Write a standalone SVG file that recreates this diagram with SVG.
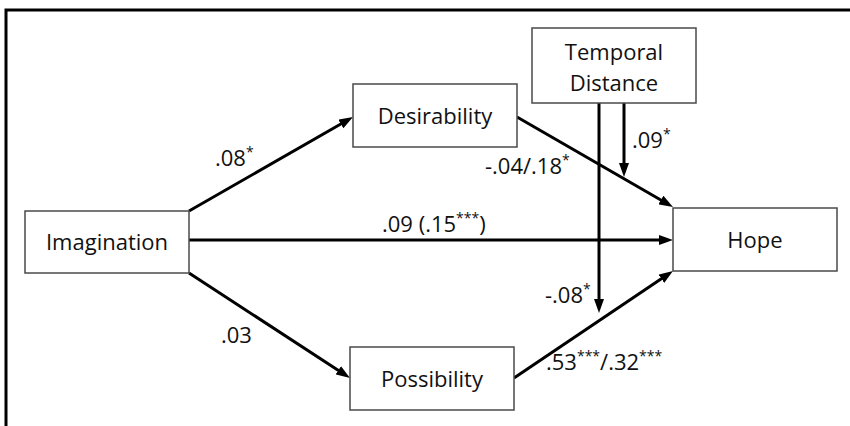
<svg xmlns="http://www.w3.org/2000/svg" width="850" height="426" viewBox="0 0 850 426">
  <style>
    .box { fill: #ffffff; stroke: #4a4a4a; stroke-width: 1.5; }
    .name { font-family: "Open Sans", "Liberation Sans", sans-serif; font-size: 22px; fill: #111111; text-anchor: middle; }
    .lbl { font-family: "Open Sans", "Liberation Sans", sans-serif; font-size: 22px; fill: #111111; }
    .sup { font-size: 14px; }
    .path { stroke: #000000; stroke-width: 3; fill: none; marker-end: url(#head); }
  </style>
  <defs>
    <marker id="head" markerUnits="userSpaceOnUse" markerWidth="14" markerHeight="10" refX="8" refY="5" orient="auto">
      <path d="M0,0 L14,5 L0,10 z" fill="#000000"/>
    </marker>
  </defs>

  <rect width="850" height="426" fill="#ffffff"/>
  <!-- outer frame (top and left edges) -->
  <polyline points="6,426 6,10 850,10" fill="none" stroke="#000000" stroke-width="3"/>

  <g id="connectors">
    <line class="path" x1="189" y1="211" x2="347.8" y2="120.0"/>
    <line class="path" x1="189" y1="240" x2="667" y2="240"/>
    <line class="path" x1="189" y1="273" x2="345.0" y2="374.7"/>
    <line class="path" x1="517" y1="117" x2="667.8" y2="204.0"/>
    <line class="path" x1="514" y1="378" x2="668.0" y2="274.3"/>
    <line class="path" x1="599" y1="103" x2="599" y2="307"/>
    <line class="path" x1="624" y1="103" x2="624" y2="171"/>

    <text class="lbl" x="215" y="166">.08<tspan class="sup" dy="-9">*</tspan></text>
    <text class="lbl" x="485" y="174">-.04/.18<tspan class="sup" dy="-9">*</tspan></text>
    <text class="lbl" x="632" y="148">.09<tspan class="sup" dy="-9">*</tspan></text>
    <text class="lbl" x="382" y="232">.09 (.15<tspan class="sup" dy="-9">***</tspan><tspan dy="9">)</tspan></text>
    <text class="lbl" x="545" y="303">-.08<tspan class="sup" dy="-9">*</tspan></text>
    <text class="lbl" x="221" y="343">.03</text>
    <text class="lbl" x="546" y="370">.53<tspan class="sup" dy="-9">***</tspan><tspan dy="9">/.32</tspan><tspan class="sup" dy="-9">***</tspan></text>
  </g>

  <g id="imagination">
    <rect class="box" x="25" y="211" width="164" height="62"/>
    <text class="name" x="107" y="250">Imagination</text>
  </g>
  <g id="desirability">
    <rect class="box" x="353" y="84" width="164" height="63"/>
    <text class="name" x="435" y="124">Desirability</text>
  </g>
  <g id="possibility">
    <rect class="box" x="350" y="347" width="164" height="63"/>
    <text class="name" x="432" y="387">Possibility</text>
  </g>
  <g id="hope">
    <rect class="box" x="673" y="208" width="164" height="63"/>
    <text class="name" x="755" y="248">Hope</text>
  </g>
  <g id="temporal-distance">
    <rect class="box" x="532" y="28" width="164" height="75"/>
    <text class="name" x="614" y="60">Temporal</text>
    <text class="name" x="614" y="91">Distance</text>
  </g>
</svg>
